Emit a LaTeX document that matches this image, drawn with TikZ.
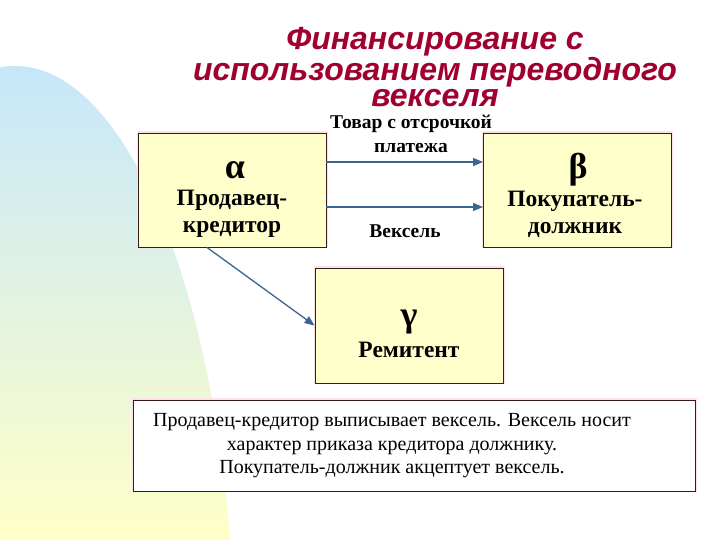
\documentclass[tikz,border=0pt]{standalone}
\usepackage{fontspec}
\setmainfont{Liberation Serif}
\newfontfamily\titlefont{Liberation Sans}
\usetikzlibrary{arrows.meta}
\definecolor{titlered}{RGB}{160,0,48}
\definecolor{boxfill}{RGB}{255,255,204}
\definecolor{boxline}{RGB}{60,25,25}
\definecolor{arrblue}{RGB}{60,100,145}
\definecolor{glow}{RGB}{252,225,232}
\definecolor{bgblue}{RGB}{198,231,250}
\definecolor{bgmint}{RGB}{224,242,228}
\definecolor{bgyellow}{RGB}{255,255,200}
\tikzset{
  box/.style={draw=boxline, fill=boxfill, line width=0.9pt, minimum width=188pt, minimum height=114pt, inner sep=0pt},
  glowbox/.style={draw=glow, line width=3pt, minimum width=188pt, minimum height=114pt, inner sep=0pt},
  greek/.style={font=\fontsize{36}{36}\selectfont\bfseries},
  lbl/.style={font=\fontsize{23.5}{27}\selectfont\bfseries, align=center},
  alab/.style={font=\fontsize{19.5}{24}\selectfont\bfseries},
  arr/.style={draw=arrblue, line width=1.3pt, -{Triangle[length=10pt,width=8pt]}},
}
\begin{document}
\begin{tikzpicture}[x=1pt,y=1pt]
\useasboundingbox (0,0) rectangle (720,540);
% background shape
\begin{scope}
  \clip (0,0) rectangle (720,540);
  \clip (15,-126) ellipse [x radius=220, y radius=600];
  \shade[top color=bgblue, middle color=bgmint, bottom color=bgyellow] (0,0) rectangle (250,475);
\end{scope}
% title
\node[font=\titlefont\fontsize{32}{26.5}\selectfont\bfseries\itshape, text=titlered, align=center] (title) at (435,473)
  {Финансирование с\\использованием переводного\\векселя};
% boxes
\node[glowbox] at (232,350) {};
\node[box] (alpha) at (232,350) {};
\node[glowbox] at (577.5,350) {};
\node[box] (beta) at (577.5,350) {};
\node[glowbox, minimum height=115pt] at (409,214.5) {};
\node[box, minimum height=115pt] (gamma) at (409,214.5) {};
\node[draw=glow, line width=3pt, minimum width=562pt, minimum height=91pt] at (414,94.5) {};
\node[draw=boxline, fill=white, line width=0.9pt, minimum width=562pt, minimum height=91pt, inner sep=0pt] (note) at (414,94.5) {};
% box texts
\node[greek] (alphaG) at (235,370) {α};
\node[lbl] (alphaT) at (232,326) {Продавец-\\кредитор};
\node[greek] (betaG) at (578,370) {β};
\node[lbl] (betaT) at (575,326) {Покупатель-\\должник};
\node[greek] (gammaG) at (409,218) {γ};
\node[lbl] (gammaT) at (409,190) {Ремитент};
% connectors
\draw[arr] ([yshift=28pt]alpha.east) -- ([yshift=28pt]beta.west);
\draw[arr] ([yshift=-17pt]alpha.east) -- ([yshift=-17pt]beta.west);
\draw[arr] ([xshift=-25pt]alpha.south) -- (gamma.west);
% arrow labels
\node[alab, align=center] (goods) at (411,406) {Товар с отсрочкой\\платежа};
\node[alab] (bill) at (405,309) {Вексель};
% note text
\node[font=\fontsize{20}{23.5}\selectfont, align=center] (noteT) at (392,94) {Продавец-кредитор выписывает вексель. Вексель носит\\характер приказа кредитора должнику.\\Покупатель-должник акцептует вексель.};
\end{tikzpicture}
\end{document}
